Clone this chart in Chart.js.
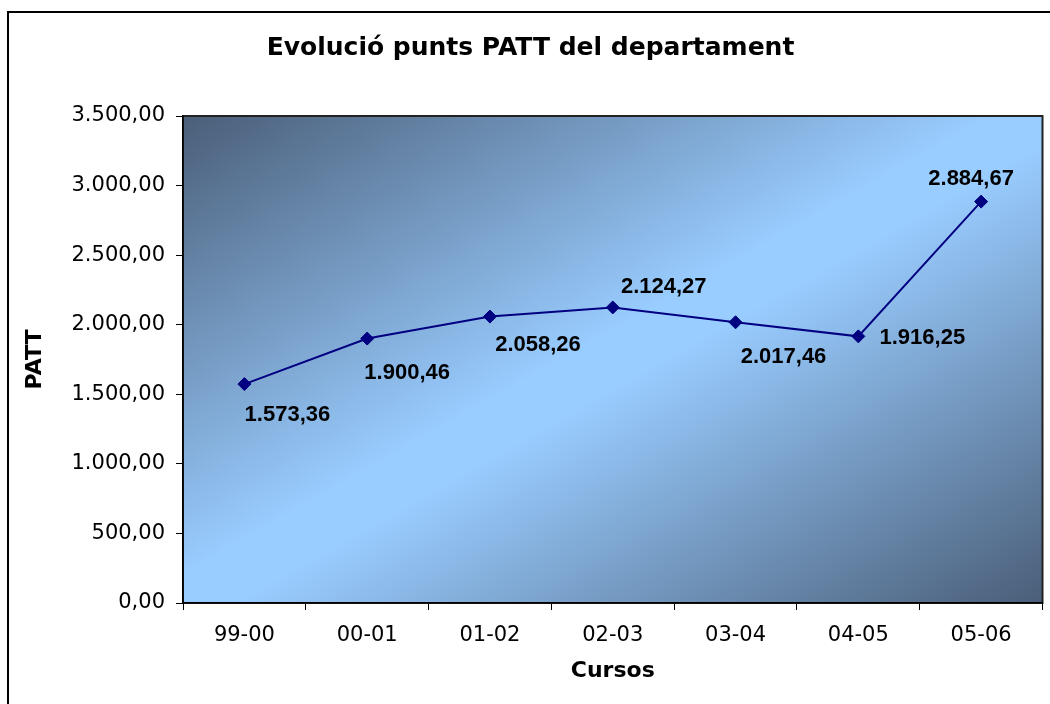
<!DOCTYPE html>
<html>
<head>
<meta charset="utf-8">
<script src="https://cdn.jsdelivr.net/npm/chart.js@4/dist/chart.umd.min.js"></script>
<style>
  html, body { margin: 0; padding: 0; background: #fff; }
  #wrap { width: 1050px; height: 704px; position: relative; }
</style>
</head>
<body>
<div id="wrap"><canvas id="chart"></canvas></div>
<script>
// chart data
const cursos = ['99-00', '00-01', '01-02', '02-03', '03-04', '04-05', '05-06'];
const puntsPatt = [1573.36, 1900.46, 2058.26, 2124.27, 2017.46, 1916.25, 2884.67];
const yMin = 0;
const yMax = 3500;
const yStep = 500;

// catalan number format: 1.573,36
const fmt = v => {
  const [i, d] = Math.abs(v).toFixed(2).split('.');
  return (v < 0 ? '-' : '') + i.replace(/\B(?=(\d{3})+(?!\d))/g, '.') + ',' + d;
};

const FONT = 'DejaVu Sans';

// frame + diagonal gradient behind the plot
const plotBg = {
  id: 'plotBg',
  beforeDraw(chart) {
    const { ctx, chartArea: a } = chart;
    ctx.save();
    ctx.strokeStyle = '#000';
    ctx.lineWidth = 2;
    ctx.strokeRect(8, 12, 1100, 800);

    ctx.translate(a.left, a.top);
    ctx.scale(a.width, a.height);
    const g = ctx.createLinearGradient(0, 0, 1, 1);
    g.addColorStop(0, '#4a5e78');
    g.addColorStop(0.47, '#99ccff');
    g.addColorStop(0.53, '#99ccff');
    g.addColorStop(1, '#4a5e78');
    ctx.fillStyle = g;
    ctx.fillRect(0, 0, 1, 1);
    ctx.restore();

    ctx.save();
    ctx.strokeStyle = '#222';
    ctx.lineWidth = 2;
    ctx.strokeRect(a.left, a.top, a.width, a.height);
    ctx.restore();
  }
};

// value labels, nudged around each point like the original
const labelShift = [[43, 29], [40, 32], [48, 26], [51, -22], [48, 33], [64, 0], [-10, -25]];
const valueLabels = {
  id: 'valueLabels',
  afterDatasetsDraw(chart) {
    const { ctx } = chart;
    const pts = chart.getDatasetMeta(0).data;
    ctx.save();
    ctx.font = 'bold 22px "Liberation Sans", Arial, sans-serif';
    ctx.fillStyle = '#000';
    ctx.textAlign = 'center';
    ctx.textBaseline = 'alphabetic';
    pts.forEach((p, i) => {
      const [dx, dy] = labelShift[i] || [0, -20];
      ctx.fillText(fmt(puntsPatt[i]), p.x + dx, p.y + dy + 8);
    });
    ctx.restore();
  }
};

new Chart(document.getElementById('chart'), {
  type: 'line',
  data: {
    labels: cursos,
    datasets: [{
      data: puntsPatt,
      borderColor: '#000080',
      borderWidth: 2,
      tension: 0,
      pointStyle: 'rectRot',
      pointRadius: 6.5,
      pointBorderWidth: 1,
      pointBackgroundColor: '#000080',
      pointBorderColor: '#000080'
    }]
  },
  options: {
    responsive: true,
    maintainAspectRatio: false,
    animation: false,
    layout: { padding: { left: 16, right: 5, top: 0, bottom: 0 } },
    plugins: {
      legend: { display: false },
      tooltip: { enabled: false },
      title: {
        display: true,
        text: 'Evolució punts PATT del departament',
        color: '#000',
        font: { family: FONT, size: 25, weight: 'bold' },
        padding: { top: 33, bottom: 53 }
      }
    },
    scales: {
      x: {
        offset: true,
        grid: { offset: true, drawOnChartArea: false, tickLength: 7, color: '#000' },
        border: { color: '#000', width: 1.5 },
        ticks: { color: '#000', font: { family: FONT, size: 21 }, padding: 13, maxRotation: 0, autoSkip: false },
        title: {
          display: true, text: 'Cursos', color: '#000',
          font: { family: FONT, size: 22, weight: 'bold' },
          padding: { top: 0, bottom: 20 }
        },
        afterFit: s => { s.height = 101; }
      },
      y: {
        min: yMin,
        max: yMax,
        grid: { drawOnChartArea: false, tickLength: 7, color: '#000' },
        border: { color: '#000', width: 1.5 },
        ticks: { stepSize: yStep, color: '#000', font: { family: FONT, size: 21 }, padding: 11, callback: v => fmt(v) },
        title: {
          display: true, text: 'PATT', color: '#000',
          font: { family: FONT, size: 22, weight: 'bold' },
          padding: { top: 6, bottom: 0 }
        },
        afterFit: s => { s.width = 167; }
      }
    }
  },
  plugins: [plotBg, valueLabels]
});
</script>
</body>
</html>
